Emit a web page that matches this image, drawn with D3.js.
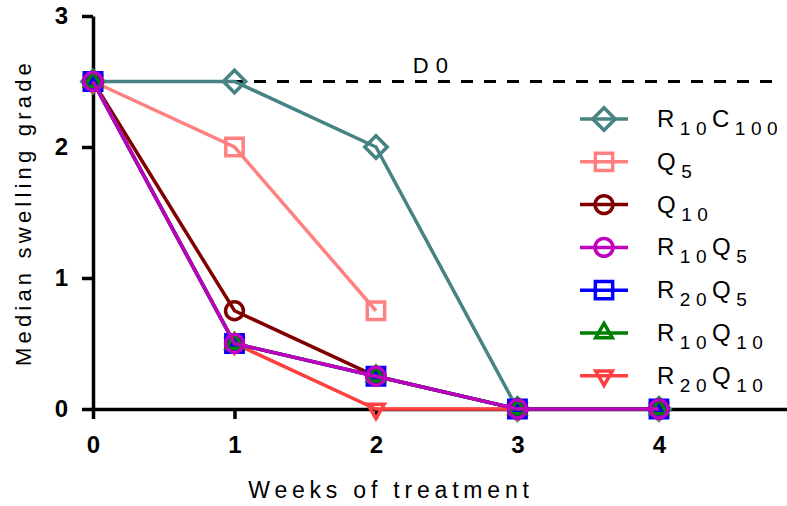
<!DOCTYPE html>
<html>
<head>
<meta charset="utf-8">
<script src="https://cdn.jsdelivr.net/npm/d3@7"></script>
<style>
  body { margin: 0; background: #fff; }
  text { font-family: "Liberation Sans", Arial, sans-serif; }
</style>
</head>
<body>
<div id="chart"></div>
<script>
// Data
const weeks = [0, 1, 2, 3, 4];
const r10c100 = [2.5, 2.5, 2, 0, 0];
const q5 = [2.5, 2, 0.75];
const q10 = [2.5, 0.75, 0.25, 0, 0];
const r10q5 = [2.5, 0.5, 0.25, 0, 0];
const r20q5 = [2.5, 0.5, 0.25, 0, 0];
const r10q10 = [2.5, 0.5, 0.25, 0, 0];
const r20q10 = [2.5, 0.5, 0, 0, 0];
const baselineD0 = 2.5;
const yTicks = [0, 1, 2, 3];
const xTicks = [0, 1, 2, 3, 4];

const series = [
  {name: "R10C100", main: "R", sub: "10", main2: "C", sub2: "100", values: r10c100, color: "#468383", shape: "diamond"},
  {name: "Q5", main: "Q", sub: "5", values: q5, color: "#ff8080", shape: "square"},
  {name: "Q10", main: "Q", sub: "10", values: q10, color: "#800000", shape: "circle"},
  {name: "R10Q5", main: "R", sub: "10", main2: "Q", sub2: "5", values: r10q5, color: "#bf00bf", shape: "circle"},
  {name: "R20Q5", main: "R", sub: "20", main2: "Q", sub2: "5", values: r20q5, color: "#0000ff", shape: "square"},
  {name: "R10Q10", main: "R", sub: "10", main2: "Q", sub2: "10", values: r10q10, color: "#008000", shape: "triangle"},
  {name: "R20Q10", main: "R", sub: "20", main2: "Q", sub2: "10", values: r20q10, color: "#ff4040", shape: "down"}
];

const W = 787, H = 506;
const margin = {top: 16, right: 0, bottom: 97, left: 93};
const width = W - margin.left - margin.right;
const height = H - margin.top - margin.bottom;

const svg = d3.select("#chart")
  .append("svg")
  .attr("width", W)
  .attr("height", H)
  .append("g")
  .attr("transform", `translate(${margin.left},${margin.top})`);

const x = d3.scaleLinear().domain([0, 4.905]).range([0, width]);
const y = d3.scaleLinear().domain([0, 3]).range([height, 0]);

// D0 dashed reference line
svg.append("line")
  .attr("x1", x(0))
  .attr("x2", width - 6)
  .attr("y1", y(baselineD0))
  .attr("y2", y(baselineD0))
  .attr("stroke", "#000")
  .attr("stroke-width", 3)
  .attr("stroke-dasharray", "12,11");

svg.append("text")
  .attr("x", x(2.26))
  .attr("y", y(baselineD0) - 9)
  .attr("font-size", 22)
  .attr("letter-spacing", 7)
  .text("D0");

// axes
const xAxis = svg.append("g")
  .attr("transform", `translate(0,${height})`)
  .call(d3.axisBottom(x).tickValues(xTicks).tickFormat(d3.format("d"))
    .tickSize(10).tickSizeOuter(0).tickPadding(17));

const yAxis = svg.append("g")
  .call(d3.axisLeft(y).tickValues(yTicks).tickFormat(d3.format("d"))
    .tickSize(11).tickSizeOuter(0).tickPadding(14));

[xAxis, yAxis].forEach(g => {
  g.select(".domain").attr("stroke-width", 3.5);
  g.selectAll(".tick line").attr("stroke-width", 3.5);
  g.selectAll(".tick text")
    .attr("font-size", 24)
    .attr("font-weight", "bold")
    .attr("fill", "#000")
    .style("font-family", "Liberation Sans, Arial, sans-serif");
});

// axis titles
svg.append("text")
  .attr("x", 298)
  .attr("y", height + 89)
  .attr("text-anchor", "middle")
  .attr("font-size", 23)
  .attr("letter-spacing", 4.8)
  .text("Weeks of treatment");

svg.append("text")
  .attr("transform", "rotate(-90)")
  .attr("x", -height / 2)
  .attr("y", -62)
  .attr("text-anchor", "middle")
  .attr("font-size", 22)
  .attr("letter-spacing", 4.2)
  .text("Median swelling grade");

// marker helper
function symbolPath(shape) {
  if (shape === "diamond") return d3.symbol(d3.symbolSquare, 250)();
  if (shape === "square") return d3.symbol(d3.symbolSquare, 300)();
  if (shape === "circle") return d3.symbol(d3.symbolCircle, 250)();
  return d3.symbol(d3.symbolTriangle, 120)();
}
function symbolRotate(shape) {
  if (shape === "diamond") return 45;
  if (shape === "down") return 180;
  return 0;
}

const line = d3.line()
  .x((d, i) => x(weeks[i]))
  .y(d => y(d));

// draw order: magenta last so it sits on top
const drawOrder = ["R10C100", "Q5", "Q10", "R20Q10", "R20Q5", "R10Q10", "R10Q5"];
drawOrder.forEach(name => {
  const s = series.find(d => d.name === name);
  svg.append("path")
    .datum(s.values)
    .attr("fill", "none")
    .attr("stroke", s.color)
    .attr("stroke-width", 3.5)
    .attr("d", line);

  svg.selectAll(null)
    .data(s.values)
    .enter()
    .append("path")
    .attr("d", symbolPath(s.shape))
    .attr("transform", (d, i) => `translate(${x(weeks[i])},${y(d)}) rotate(${symbolRotate(s.shape)})`)
    .attr("fill", s.name === "R20Q5" ? s.color : "none")
    .attr("stroke", s.color)
    .attr("stroke-width", 3.5);
});

// legend
const legend = svg.append("g")
  .attr("transform", `translate(${580 - margin.left}, ${119 - margin.top})`);

series.forEach((s, i) => {
  const g = legend.append("g").attr("transform", `translate(0, ${i * 42.8})`);
  g.append("line")
    .attr("x1", 0).attr("x2", 48)
    .attr("y1", 0).attr("y2", 0)
    .attr("stroke", s.color)
    .attr("stroke-width", 3.5);
  g.append("path")
    .attr("d", symbolPath(s.shape))
    .attr("transform", `translate(24,0) rotate(${symbolRotate(s.shape)})`)
    .attr("fill", "none")
    .attr("stroke", s.color)
    .attr("stroke-width", 3.5);

  const t = g.append("text")
    .attr("x", 77)
    .attr("y", 8)
    .attr("font-size", 24)
    .attr("letter-spacing", 5.5);
  t.append("tspan").text(s.main);
  t.append("tspan").attr("font-size", 19).attr("dy", 8).text(s.sub);
  if (s.main2) {
    t.append("tspan").attr("dy", -8).text(s.main2);
    t.append("tspan").attr("font-size", 19).attr("dy", 8).text(s.sub2);
  }
});
</script>
</body>
</html>
